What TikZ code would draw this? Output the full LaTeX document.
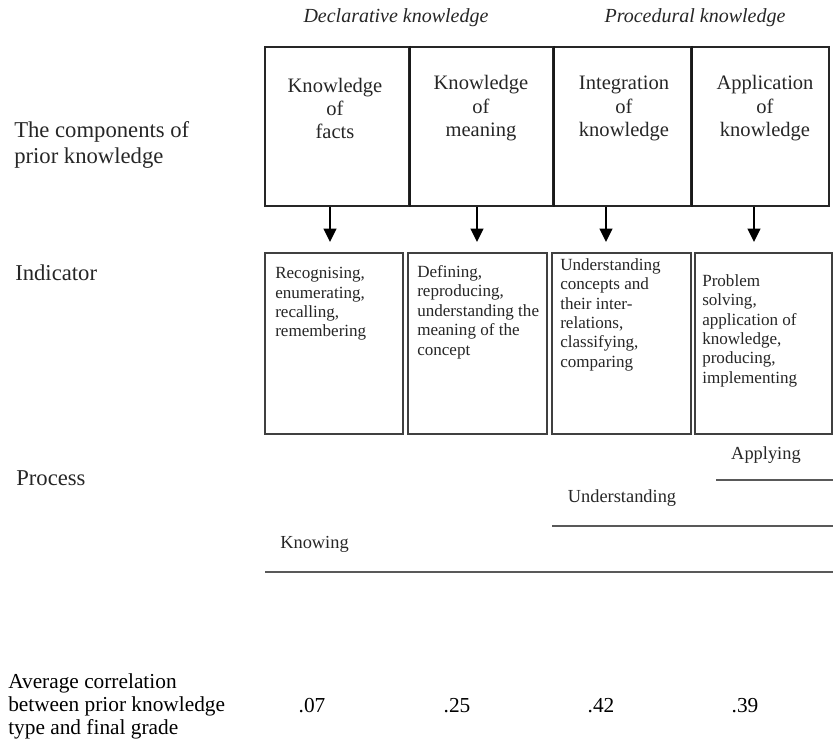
\documentclass[tikz,border=0pt]{standalone}
\usepackage{fontspec}
\setmainfont{Liberation Serif}
\usetikzlibrary{arrows.meta,fit}
\begin{document}
\begin{tikzpicture}[x=0.75pt,y=-0.75pt,
  topbox/.style={draw=black!85, line width=1.5pt, inner sep=0pt},
  divider/.style={draw=black!90, line width=2.2pt},
  indbox/.style={draw=black!75, line width=1.6pt, inner sep=0pt},
  boxtext/.style={align=center, text=black!85, inner sep=0pt,
    font=\fontsize{15.4}{17.6}\selectfont},
  indtext/.style={align=left, anchor=north west, text=black!85, inner sep=0pt,
    font=\fontsize{12.8}{14.6}\selectfont},
  rowlabel/.style={align=left, anchor=west, text=black!85, inner sep=0pt,
    font=\fontsize{17}{19}\selectfont},
  headlabel/.style={text=black!85, inner sep=0pt,
    font=\fontsize{15}{17}\selectfont\itshape},
  proclabel/.style={text=black!85, inner sep=0pt,
    font=\fontsize{13.8}{16}\selectfont},
  procline/.style={draw=black!65, line width=2pt},
  corrtext/.style={inner sep=0pt, font=\fontsize{16}{17.3}\selectfont},
  arr/.style={draw=black, line width=1.5pt, -{Triangle[length=10pt,width=9.5pt]}}
]
\useasboundingbox (0,0) rectangle (833,745);

% column headings
\node[headlabel] (decl) at (396,18) {Declarative knowledge};
\node[headlabel] (proc) at (695,18) {Procedural knowledge};

% row labels
\node[rowlabel] (rcomp) at (14,145) {The components of\\prior knowledge};
\node[rowlabel] (rind)  at (15,273) {Indicator};
\node[rowlabel] (rproc) at (16,478) {Process};
\node[corrtext, align=left, anchor=west] (rcorr) at (8,706)
  {Average correlation\\between prior knowledge\\type and final grade};

% components of prior knowledge
\node[topbox, fit={(265,47) (409,206)}] (k1) {};
\node[topbox, fit={(409,47) (553,206)}] (k2) {};
\node[topbox, fit={(553,47) (691,206)}] (k3) {};
\node[topbox, fit={(691,47) (829,206)}] (k4) {};
\draw[divider] (k1.north east) -- (k1.south east);
\draw[divider] (k2.north east) -- (k2.south east);
\draw[divider] (k3.north east) -- (k3.south east);
\node[boxtext] (k1t) at (335,108.5) {Knowledge\\of\\facts};
\node[boxtext] (k2t) at (481,108.5) {Knowledge\\of\\meaning};
\node[boxtext] (k3t) at (624,108.5) {Integration\\of\\knowledge};
\node[boxtext] (k4t) at (765,108.5) {Application\\of\\knowledge};

% indicators
\node[indbox, fit={(265,253) (403,434)}] (i1) {};
\node[indbox, fit={(408,253) (547,434)}] (i2) {};
\node[indbox, fit={(552,253) (691,434)}] (i3) {};
\node[indbox, fit={(695,253) (832,434)}] (i4) {};
\node[indtext] (i1t) at (275,267) {Recognising,\\enumerating,\\recalling,\\remembering};
\node[indtext] (i2t) at (417,265) {Defining,\\reproducing,\\understanding the\\meaning of the\\concept};
\node[indtext] (i3t) at (560,258) {Understanding\\concepts and\\their inter-\\relations,\\classifying,\\comparing};
\node[indtext] (i4t) at (702,274) {Problem\\solving,\\application of\\knowledge,\\producing,\\implementing};

% arrows from components to indicators
\coordinate (a1) at (330,242);
\coordinate (a2) at (477,242);
\coordinate (a3) at (606,242);
\coordinate (a4) at (754,242);
\draw[arr] (k1.south -| a1) -- (a1);
\draw[arr] (k2.south -| a2) -- (a2);
\draw[arr] (k3.south -| a3) -- (a3);
\draw[arr] (k4.south -| a4) -- (a4);

% processes
\node[proclabel] (papp) at (766,455) {Applying};
\node[proclabel] (pund) at (622,498) {Understanding};
\node[proclabel, anchor=west] (pkno) at (280,544) {Knowing};
\coordinate (la0) at (716,480);  \coordinate (la1) at (833,480);
\coordinate (lu0) at (552,526);  \coordinate (lu1) at (833,526);
\coordinate (lk0) at (265,572);  \coordinate (lk1) at (833,572);
\draw[procline] (la0) -- (la1);
\draw[procline] (lu0) -- (lu1);
\draw[procline] (lk0) -- (lk1);

% average correlations
\node[corrtext] (c1) at (312,706) {.07};
\node[corrtext] (c2) at (457,706) {.25};
\node[corrtext] (c3) at (601,706) {.42};
\node[corrtext] (c4) at (745,706) {.39};
\end{tikzpicture}
\end{document}
